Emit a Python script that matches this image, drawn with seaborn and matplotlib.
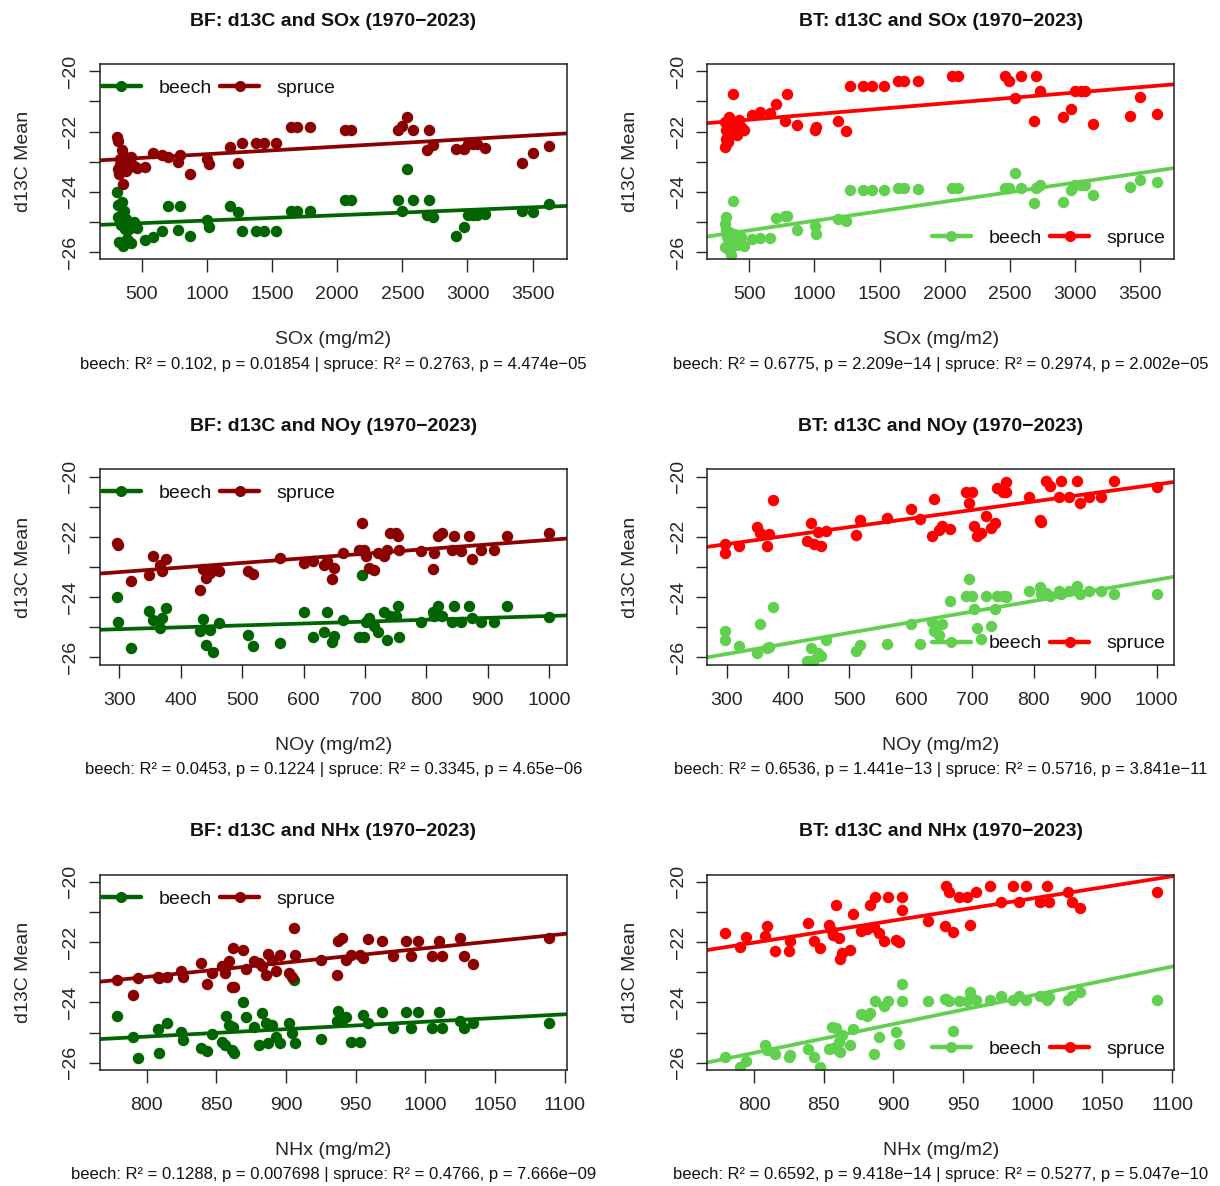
import numpy as np
import matplotlib
matplotlib.use('Agg')
import matplotlib.pyplot as plt
from matplotlib.lines import Line2D
import seaborn as sns

# ---- SOx (one value per year, same years for both sites) ----
sox = [312, 316, 320, 325, 330, 335, 340, 348, 355, 362, 370, 378, 385, 395, 405, 420, 440, 462,
       525, 583, 658, 703, 778, 793, 867, 1001, 1016, 1180, 1240, 1270, 1374, 1440, 1533, 1643, 1688,
       1792, 2060, 2105, 2464, 2494, 2539, 2584, 2688, 2703, 2733, 2912, 2972, 3001, 3046, 3076, 3136,
       3419, 3503, 3628]
bf_sox_beech = [-23.99, -24.45, -24.84, -25.67, -24.8, -25.0, -25.1, -24.34, -25.78, -24.62, -25.23, -24.9,
                -25.56, -25.12, -25.23, -25.7, -25.0, -25.2,
                -25.6, -25.5, -25.3, -24.47, -25.28, -24.47, -25.47, -24.95, -25.17, -24.47, -24.67, -25.3,
                -25.3, -25.3, -25.3, -24.64, -24.64, -24.64, -24.26, -24.26, -24.26, -24.64, -23.23, -24.26,
                -24.78, -24.26, -24.84, -25.45, -25.17, -24.78, -24.78, -24.78, -24.73, -24.62, -24.67, -24.4]
bf_sox_spruce = [-22.18, -22.3, -23.23, -23.4, -23.1, -22.9, -23.0, -22.62, -23.73, -22.8, -23.0, -23.3,
                 -22.96, -23.2, -23.1, -22.85, -23.15, -23.2,
                 -23.18, -22.7, -22.77, -22.85, -23.0, -22.77, -23.4, -22.9, -23.07, -22.5, -23.03, -22.38,
                 -22.38, -22.38, -22.38, -21.85, -21.85, -21.85, -21.94, -21.94, -21.94, -21.8, -21.52, -21.94,
                 -22.62, -21.94, -22.46, -22.59, -22.59, -22.4, -22.4, -22.4, -22.55, -23.05, -22.7, -22.49]
bt_sox_beech = [-25.06, -25.84, -25.28, -24.84, -25.5, -25.9, -25.78, -25.34, -25.56, -26.11, -25.78, -24.29,
                -25.4, -25.6, -25.75, -25.7, -25.5, -25.8,
                -25.56, -25.54, -25.54, -24.88, -24.81, -24.81, -25.25, -25.12, -25.39, -24.89, -24.98, -23.93,
                -23.93, -23.93, -23.93, -23.88, -23.88, -23.9, -23.88, -23.88, -23.88, -23.88, -23.37, -23.88,
                -24.36, -23.88, -23.77, -24.34, -23.95, -23.77, -23.77, -23.77, -24.12, -23.84, -23.62, -23.68]
bt_sox_spruce = [-21.68, -22.5, -22.24, -21.96, -22.2, -22.35, -21.8, -21.52, -21.9, -22.13, -21.9, -20.74,
                 -21.7, -22.0, -22.1, -21.6, -21.85, -21.95,
                 -21.44, -21.35, -21.4, -21.07, -21.66, -20.74, -21.77, -21.96, -21.85, -21.66, -21.99, -20.49,
                 -20.49, -20.49, -20.49, -20.32, -20.32, -20.32, -20.16, -20.16, -20.16, -20.32, -20.87, -20.16,
                 -21.64, -20.16, -20.65, -21.53, -21.26, -20.65, -20.65, -20.65, -21.74, -21.48, -20.85, -21.42]

# ---- NOy ----
noy = [297, 298, 320, 349, 355, 366, 369, 376, 431, 437, 442, 448, 453, 462, 510, 517, 561, 600, 615,
       634, 638, 646, 650, 664, 690, 695, 699, 702, 707, 714, 722, 731, 736, 740, 750, 754, 755, 792,
       810, 812, 819, 826, 841, 845, 857, 870, 875, 889, 910, 931, 1000]
bf_noy_beech = [-24.0, -24.83, -25.69, -24.47, -24.75, -25.02, -24.69, -24.36, -25.13, -24.71, -25.6, -25.08,
                -25.82, -24.86, -25.24, -25.63, -25.52, -24.49, -25.33, -25.16, -24.49, -25.5, -25.3, -24.75,
                -25.32, -23.27, -25.32, -24.82, -24.69, -24.97, -25.16, -24.49, -25.43, -24.63, -24.63, -24.3,
                -25.32, -24.83, -24.49, -24.61, -24.28, -24.63, -24.83, -24.28, -24.83, -24.28, -24.69, -24.83,
                -24.83, -24.28, -24.66]
bf_noy_spruce = [-22.2, -22.28, -23.45, -23.25, -22.62, -22.92, -23.14, -22.75, -23.75, -23.08, -23.36, -23.19,
                 -23.1, -23.14, -23.14, -23.22, -22.69, -22.86, -22.8, -22.94, -22.8, -23.41, -23.03, -22.55,
                 -22.44, -21.53, -22.42, -22.64, -23.03, -23.1, -22.55, -22.62, -22.42, -21.86, -21.86, -21.97,
                 -22.42, -22.47, -23.06, -22.53, -21.97, -21.86, -22.44, -21.97, -22.47, -21.97, -22.72, -22.44,
                 -22.44, -21.97, -21.86]
bt_noy_beech = [-25.13, -25.41, -25.63, -25.85, -24.88, -25.69, -25.65, -24.33, -26.13, -25.69, -26.1, -25.85,
                -25.94, -25.43, -25.8, -25.6, -25.55, -24.88, -25.55, -24.83, -25.13, -25.24, -24.88, -24.14,
                -23.95, -23.39, -23.95, -24.39, -25.02, -25.39, -23.95, -24.94, -24.39, -23.95, -23.95, -23.95,
                -24.0, -23.8, -23.66, -23.91, -23.85, -23.95, -23.8, -23.91, -23.8, -23.64, -23.91, -23.8,
                -23.8, -23.91, -23.91]
bt_noy_spruce = [-22.25, -22.55, -22.3, -21.66, -21.86, -22.3, -21.9, -20.78, -22.14, -21.53, -22.22, -21.84,
                 -22.3, -21.81, -21.95, -21.44, -21.36, -21.09, -21.42, -21.97, -20.75, -21.77, -21.64, -21.75,
                 -20.5, -20.89, -20.5, -21.64, -21.97, -21.86, -21.31, -21.7, -21.55, -20.37, -20.5, -20.18,
                 -20.5, -20.67, -21.44, -21.51, -20.14, -20.31, -20.67, -20.14, -20.67, -20.14, -20.86, -20.67,
                 -20.67, -20.14, -20.34]

# ---- NHx ----
nhx = [779, 790, 794, 808, 809, 815, 825, 826, 839, 843, 847, 854, 856, 857, 859, 861, 862, 863, 869, 871,
       877, 881, 883, 886, 887, 890, 893, 896, 902, 904, 906, 906.5, 925, 937, 937.5, 940, 943, 947, 953,
       955, 959, 969, 977, 986, 990, 995, 1005, 1010, 1012, 1025, 1028, 1034, 1089]
bf_nhx_beech = [-24.45, -25.13, -25.85, -24.88, -25.66, -24.69, -24.97, -25.24, -25.5, -25.61, -25.06, -25.3,
                -25.41, -24.45, -24.75, -25.58, -24.82, -25.69, -24.0, -24.49, -24.8, -25.41, -24.36, -24.69,
                -25.33, -24.75, -25.13, -25.35, -24.69, -25.02, -23.27, -25.35, -25.2, -24.63, -24.28, -24.63,
                -24.49, -25.32, -25.32, -24.43, -24.69, -24.3, -24.83, -24.3, -24.83, -24.3, -24.83, -24.3,
                -24.83, -24.63, -24.83, -24.69, -24.69]
bf_nhx_spruce = [-23.25, -23.75, -23.2, -23.14, -23.2, -23.14, -22.97, -23.17, -22.69, -23.38, -23.03, -22.8,
                 -23.03, -22.78, -22.62, -23.47, -22.2, -23.47, -22.25, -22.88, -22.62, -22.69, -22.8, -23.1,
                 -22.39, -22.58, -22.97, -22.42, -23.03, -23.14, -21.53, -22.44, -22.58, -23.08, -21.97, -21.86,
                 -22.58, -22.42, -22.42, -22.53, -21.88, -21.97, -22.47, -21.97, -22.47, -21.97, -22.47, -21.97,
                 -22.47, -21.86, -22.47, -22.72, -21.86]
bt_nhx_beech = [-25.82, -26.13, -25.94, -25.41, -25.58, -25.72, -25.82, -25.75, -25.55, -25.82, -26.13, -25.54,
                -24.8, -25.5, -24.83, -25.3, -25.63, -25.08, -25.41, -24.88, -24.39, -24.45, -24.36, -25.72,
                -23.96, -25.13, -24.12, -23.94, -24.99, -25.38, -23.39, -23.96, -23.96, -23.87, -23.9, -23.96,
                -24.94, -23.96, -23.96, -23.65, -23.91, -23.91, -23.8, -23.91, -23.77, -23.91, -23.8, -23.91,
                -23.83, -23.91, -23.77, -23.64, -23.91]
bt_nhx_spruce = [-21.7, -22.17, -21.84, -21.8, -21.47, -22.3, -22.3, -21.95, -21.36, -21.97, -22.2, -21.44,
                 -21.64, -21.75, -20.75, -21.86, -22.55, -22.36, -22.25, -21.07, -21.64, -21.55, -20.75, -21.51,
                 -20.51, -21.7, -21.97, -20.51, -21.92, -22.0, -20.51, -20.92, -21.31, -21.47, -20.12, -20.33,
                 -21.66, -20.51, -20.51, -21.42, -20.33, -20.14, -20.66, -20.14, -20.66, -20.14, -20.66, -20.14,
                 -20.66, -20.33, -20.66, -20.86, -20.34]

sox_ticks = [500, 1000, 1500, 2000, 2500, 3000, 3500]
noy_ticks = [300, 400, 500, 600, 700, 800, 900, 1000]
nhx_ticks = [800, 850, 900, 950, 1000, 1050, 1100]

stats = {
    ('BF', 'SOx'): 'beech: R² = 0.102, p = 0.01854 | spruce: R² = 0.2763, p = 4.474e−05',
    ('BT', 'SOx'): 'beech: R² = 0.6775, p = 2.209e−14 | spruce: R² = 0.2974, p = 2.002e−05',
    ('BF', 'NOy'): 'beech: R² = 0.0453, p = 0.1224 | spruce: R² = 0.3345, p = 4.65e−06',
    ('BT', 'NOy'): 'beech: R² = 0.6536, p = 1.441e−13 | spruce: R² = 0.5716, p = 3.841e−11',
    ('BF', 'NHx'): 'beech: R² = 0.1288, p = 0.007698 | spruce: R² = 0.4766, p = 7.666e−09',
    ('BT', 'NHx'): 'beech: R² = 0.6592, p = 9.418e−14 | spruce: R² = 0.5277, p = 5.047e−10',
}

site_colors = {'BF': ('#006400', '#8B0000'), 'BT': ('#61D04F', '#FF0000')}


def panel(ax, site, name, x, beech, spruce, ticks):
    x = np.asarray(x, dtype=float)
    pad = 0.04 * (x.max() - x.min())
    ax.set_xlim(x.min() - pad, x.max() + pad)
    ax.set_ylim(-26.24, -19.76)
    for y, c in zip((beech, spruce), site_colors[site]):
        sns.regplot(x=x, y=np.asarray(y, dtype=float), ax=ax, ci=None, truncate=False,
                    scatter_kws={'s': 68, 'color': c, 'linewidths': 0, 'alpha': 1},
                    line_kws={'color': c, 'lw': 2.7})
    ax.set_xticks(ticks)
    ax.set_yticks([-26, -25, -24, -23, -22, -21, -20])
    ax.set_yticklabels(['−26', '', '−24', '', '−22', '', '−20'])
    ax.tick_params(axis='y', labelrotation=90)
    for lab in ax.get_yticklabels():
        lab.set_va('center')
    ax.set_title(f'{site}: d13C and {name} (1970−2023)', fontsize=14, fontweight='bold', pad=27.5)
    ax.set_xlabel(f'{name} (mg/m2)', fontsize=14, labelpad=20)
    ax.set_ylabel('d13C Mean', fontsize=14, labelpad=22)
    ax.annotate(stats[(site, name)], xy=(0.5, 0), xycoords='axes fraction', xytext=(0, -75.5),
                textcoords='offset points', ha='center', va='center', fontsize=12)

    handles = [Line2D([], [], color=c, lw=3.2, marker='o', ms=7) for c in site_colors[site]]
    if site == 'BF':
        ax.legend(handles, ['beech', 'spruce'], loc='center left', bbox_to_anchor=(0.004, 0.877),
                  ncol=2, frameon=False, fontsize=14, handlelength=2.0, handletextpad=0.9,
                  columnspacing=0.45, borderpad=0, borderaxespad=0)
    else:
        ax.legend(handles, ['beech', 'spruce'], loc='center right', bbox_to_anchor=(0.982, 0.108),
                  ncol=2, frameon=False, fontsize=14, handlelength=2.0, handletextpad=0.9,
                  columnspacing=0.45, borderpad=0, borderaxespad=0)


sns.set_style('ticks')
plt.rcParams['font.family'] = ['Liberation Sans', 'DejaVu Sans']
plt.rcParams['xtick.labelsize'] = 14
plt.rcParams['ytick.labelsize'] = 14
plt.rcParams['xtick.major.size'] = 9.5
plt.rcParams['ytick.major.size'] = 8
plt.rcParams['xtick.major.pad'] = 10
plt.rcParams['ytick.major.pad'] = 7
plt.rcParams['xtick.major.width'] = 1.0
plt.rcParams['ytick.major.width'] = 1.0
plt.rcParams['axes.linewidth'] = 1.1
plt.rcParams['axes.edgecolor'] = '#222222'
plt.rcParams['text.color'] = '#111111'

fig, axes = plt.subplots(3, 2, figsize=(12.2, 11.86), dpi=100)
fig.subplots_adjust(left=0.082, right=0.9623, top=0.946, bottom=0.0978, wspace=0.302, hspace=1.075)

panel(axes[0, 0], 'BF', 'SOx', sox, bf_sox_beech, bf_sox_spruce, sox_ticks)
panel(axes[0, 1], 'BT', 'SOx', sox, bt_sox_beech, bt_sox_spruce, sox_ticks)
panel(axes[1, 0], 'BF', 'NOy', noy, bf_noy_beech, bf_noy_spruce, noy_ticks)
panel(axes[1, 1], 'BT', 'NOy', noy, bt_noy_beech, bt_noy_spruce, noy_ticks)
panel(axes[2, 0], 'BF', 'NHx', nhx, bf_nhx_beech, bf_nhx_spruce, nhx_ticks)
panel(axes[2, 1], 'BT', 'NHx', nhx, bt_nhx_beech, bt_nhx_spruce, nhx_ticks)

fig.savefig('out.png', dpi=100)
plt.close(fig)
